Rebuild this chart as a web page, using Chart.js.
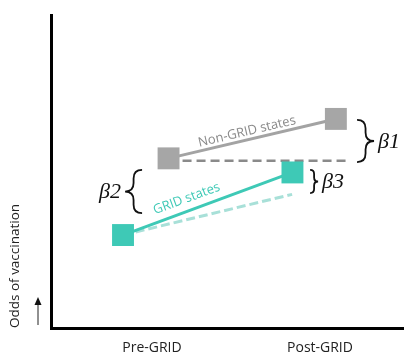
<!DOCTYPE html>
<html lang="en">
<head>
    <meta charset="UTF-8">
    <title>GRID difference-in-differences</title>
    <script src="https://cdn.jsdelivr.net/npm/chart.js"></script>
    <style>
        body { margin: 0; background: #fff; overflow: hidden; }
        canvas { display: block; }
    </style>
</head>
<body>
    <canvas id="didChart" width="404" height="354"></canvas>

    <script>
        // axis categories
        const periods = ['Pre-GRID', 'Post-GRID'];
        const periodX = [2.86, 7.62];

        // non-GRID states (observed + counterfactual)
        const nonGridX = [3.33, 8.07];
        const nonGridY = [5.42, 6.68];
        const nonGridTrendX = [3.33, 8.41];
        const nonGridTrendY = [5.34, 5.34];

        // GRID states (observed + counterfactual)
        const gridX = [2.04, 6.84];
        const gridY = [2.97, 4.97];
        const gridTrendX = [2.04, 6.83];
        const gridTrendY = [2.97, 4.27];

        // effect braces
        const effectNames = ['β1', 'β2', 'β3'];
        const effectX = [8.67, 2.58, 7.34];
        const effectTop = [6.65, 5.05, 5.05];
        const effectBottom = [5.30, 3.67, 4.31];

        const toPoints = (xs, ys) => xs.map((v, i) => ({ x: v, y: ys[i] }));

        function drawBrace(ctx, x0, y0, y1, w, dir) {
            const xm = x0 + dir * w / 2, xt = x0 + dir * w, ym = (y0 + y1) / 2;
            const r = Math.min(w / 2, (y1 - y0) / 4);
            ctx.beginPath();
            ctx.moveTo(x0, y0);
            ctx.quadraticCurveTo(xm, y0, xm, y0 + r);
            ctx.lineTo(xm, ym - r);
            ctx.quadraticCurveTo(xm, ym, xt, ym);
            ctx.quadraticCurveTo(xm, ym, xm, ym + r);
            ctx.lineTo(xm, y1 - r);
            ctx.quadraticCurveTo(xm, y1, x0, y1);
            ctx.stroke();
            return { xt, ym };
        }

        function lineLabel(ctx, sx, sy, xs, ys, text, color, t, off) {
            const x0 = sx.getPixelForValue(xs[0]), y0 = sy.getPixelForValue(ys[0]);
            const x1 = sx.getPixelForValue(xs[1]), y1 = sy.getPixelForValue(ys[1]);
            ctx.save();
            ctx.translate(x0 + t * (x1 - x0), y0 + t * (y1 - y0));
            ctx.rotate(Math.atan2(y1 - y0, x1 - x0));
            ctx.fillStyle = color;
            ctx.font = '13px "Open Sans"';
            ctx.textAlign = 'center';
            ctx.textBaseline = 'middle';
            ctx.fillText(text, 0, -off);
            ctx.restore();
        }

        const decorations = {
            id: 'decorations',
            afterDatasetsDraw(chart) {
                const { ctx, chartArea, scales: { x, y } } = chart;
                ctx.save();

                // little arrow beside the y title
                const ax = chartArea.left - 13;
                ctx.strokeStyle = '#222';
                ctx.fillStyle = '#111';
                ctx.lineWidth = 1;
                ctx.beginPath();
                ctx.moveTo(ax, chartArea.bottom - 3);
                ctx.lineTo(ax, chartArea.bottom - 26);
                ctx.stroke();
                ctx.beginPath();
                ctx.moveTo(ax, chartArea.bottom - 31);
                ctx.lineTo(ax - 3.5, chartArea.bottom - 23);
                ctx.lineTo(ax + 3.5, chartArea.bottom - 23);
                ctx.closePath();
                ctx.fill();

                lineLabel(ctx, x, y, nonGridX, nonGridY, 'Non-GRID states', '#8a8a8a', 0.48, 8);
                lineLabel(ctx, x, y, gridX, gridY, 'GRID states', '#3ec9b6', 0.40, 12);

                const widths = [17, 17, 8];
                const dirs = [1, -1, 1];
                ctx.strokeStyle = '#111';
                ctx.lineWidth = 1.8;
                ctx.fillStyle = '#111';
                ctx.font = 'italic 22px "Liberation Serif"';
                ctx.textBaseline = 'middle';
                effectNames.forEach((name, i) => {
                    const b = drawBrace(ctx, x.getPixelForValue(effectX[i]),
                        y.getPixelForValue(effectTop[i]), y.getPixelForValue(effectBottom[i]),
                        widths[i], dirs[i]);
                    ctx.textAlign = dirs[i] > 0 ? 'left' : 'right';
                    ctx.fillText(name, b.xt + dirs[i] * 4, b.ym + 1);
                });
                ctx.restore();
            }
        };

        const ctx = document.getElementById('didChart').getContext('2d');
        const didChart = new Chart(ctx, {
            type: 'scatter',
            data: {
                datasets: [{
                    label: 'Non-GRID states',
                    data: toPoints(nonGridX, nonGridY),
                    showLine: true,
                    borderColor: '#a3a3a3',
                    borderWidth: 3,
                    pointStyle: 'rect',
                    pointRadius: 15.5,
                    pointBorderWidth: 0,
                    pointBackgroundColor: '#a6a6a6'
                }, {
                    label: 'GRID states',
                    data: toPoints(gridX, gridY),
                    showLine: true,
                    borderColor: '#3ec9b6',
                    borderWidth: 3,
                    pointStyle: 'rect',
                    pointRadius: 15.5,
                    pointBorderWidth: 0,
                    pointBackgroundColor: '#3ec9b6'
                }, {
                    label: 'Non-GRID trend',
                    data: toPoints(nonGridTrendX, nonGridTrendY),
                    showLine: true,
                    borderColor: '#8a8a8a',
                    borderWidth: 2.5,
                    borderDash: [9, 5],
                    pointRadius: 0
                }, {
                    label: 'GRID trend',
                    data: toPoints(gridTrendX, gridTrendY),
                    showLine: true,
                    borderColor: '#a8e0d8',
                    borderWidth: 3,
                    borderDash: [9, 4],
                    pointRadius: 0
                }]
            },
            options: {
                responsive: false,
                animation: false,
                devicePixelRatio: 1,
                layout: { autoPadding: false, padding: { top: 15, left: 0, right: 0, bottom: 0 } },
                plugins: { legend: { display: false }, tooltip: { enabled: false } },
                elements: { line: { tension: 0 } },
                datasets: { scatter: { clip: false } },
                scales: {
                    x: {
                        type: 'linear',
                        min: 0,
                        max: 10,
                        grid: { drawOnChartArea: false, drawTicks: false },
                        border: { display: true, width: 3, color: '#000' },
                        afterFit: s => { s.height = 26; },
                        afterBuildTicks: s => { s.ticks = periodX.map(v => ({ value: v })); },
                        ticks: {
                            autoSkip: false,
                            maxRotation: 0,
                            padding: 12,
                            color: '#222',
                            font: { family: 'Open Sans', size: 14 },
                            callback: (v, i) => periods[i]
                        }
                    },
                    y: {
                        type: 'linear',
                        min: 0,
                        max: 10,
                        grid: { drawOnChartArea: false, drawTicks: false },
                        border: { display: true, width: 3, color: '#000' },
                        afterFit: s => { s.width = 51; },
                        ticks: { display: false },
                        title: {
                            display: true,
                            text: 'Odds of vaccination',
                            align: 'start',
                            color: '#222',
                            padding: { top: 7, bottom: 0 },
                            font: { family: 'Open Sans', size: 13.5 }
                        }
                    }
                }
            },
            plugins: [decorations]
        });
    </script>
</body>
</html>
